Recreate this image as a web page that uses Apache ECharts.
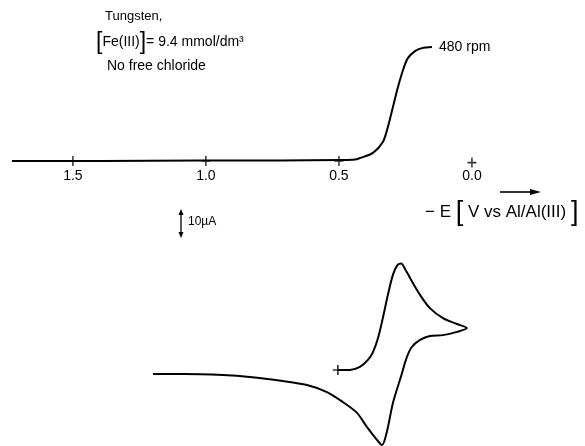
<!DOCTYPE html>
<html><head><meta charset="utf-8">
<script src="https://cdn.jsdelivr.net/npm/echarts@6/dist/echarts.min.js"></script>
<style>html,body{margin:0;padding:0;background:#fff}#c{width:585px;height:446px}</style>
</head><body><div id="c"></div>
<script>
// Rotating disk voltammogram (480 rpm): potential (V) and current (µA)
const rdeE = [1.729, 1.398, 1.023, 0.722, 0.496, 0.44, 0.421, 0.372, 0.335, 0.316, 0.297, 0.278, 0.259, 0.241, 0.214, 0.188, 0.150];
const rdeI = [0, 0, 0.2, 0.2, 0.37, 0.55, 1.1, 3.0, 7.0, 12.6, 20.0, 27.4, 33.7, 38.1, 40.7, 41.8, 42.2];
// Cyclic voltammogram: potential (V) and current (µA), in trace order
const cvE = [0.504, 0.459, 0.421, 0.391, 0.372, 0.353, 0.335, 0.316, 0.297, 0.280, 0.266, 0.252, 0.222, 0.195, 0.158, 0.109, 0.056, 0.019, 0.056, 0.109, 0.158, 0.195, 0.226, 0.246, 0.265, 0.297, 0.320, 0.338, 0.357, 0.395, 0.432, 0.485, 0.545, 0.620, 0.711, 0.835, 0.936, 1.086, 1.199];
const cvI = [1.5, 1.5, 2.6, 5.2, 8.1, 13.3, 20.7, 29.3, 36.7, 40.3, 40.9, 39.0, 33.7, 29.3, 24.4, 20.7, 18.5, 17.0, 15.6, 14.4, 14.1, 12.6, 10.0, 5.9, -0.4, -10.7, -21.5, -26.3, -24.4, -19.6, -14.4, -10.4, -6.7, -4.1, -2.6, -1.1, -0.4, 0, 0];
// Axis tick values
const tickValues = [1.5, 1.0, 0.5, 0.0];

const plusSym = 'path://M4,0h1.6v10h-1.6z M0,4.2h9.6v1.6h-9.6z';
const xBase = {type: 'value', min: -0.425, max: 1.774, inverse: true, splitLine: {show: false}, axisLine: {show: false}, axisTick: {show: false}};
const FONT = 'Liberation Sans, Arial, sans-serif';

const chart = echarts.init(document.getElementById('c'), null, {renderer: 'canvas'});
chart.setOption({
  animation: false,
  backgroundColor: '#fff',
  grid: [
    {left: 0, right: 0, top: 0, height: 161},
    {left: 0, right: 0, top: 0, bottom: 0}
  ],
  xAxis: [
    Object.assign({}, xBase, {gridIndex: 0, axisLabel: {show: true, customValues: tickValues, margin: 8, color: '#000', fontSize: 14, fontFamily: FONT, formatter: v => v.toFixed(1)}}),
    Object.assign({}, xBase, {gridIndex: 1, axisLabel: {show: false}})
  ],
  yAxis: [
    {type: 'value', gridIndex: 0, min: 0, max: 59.63, show: false, splitLine: {show: false}},
    {type: 'value', gridIndex: 1, min: -26.67, max: 138.52, show: false, splitLine: {show: false}}
  ],
  series: [
    {type: 'line', xAxisIndex: 0, yAxisIndex: 0, data: rdeE.map((e, k) => [e, rdeI[k]]), smooth: 0.3, symbol: 'none', clip: false,
     lineStyle: {color: '#000', width: 2}},
    {type: 'scatter', xAxisIndex: 0, yAxisIndex: 0, data: tickValues.map(v => [v, v === 0 ? -0.6 : 0]), symbol: plusSym, symbolSize: [9, 10], clip: false,
     itemStyle: {color: '#000'}},
    {type: 'line', xAxisIndex: 1, yAxisIndex: 1, data: cvE.map((e, k) => [e, cvI[k]]), smooth: 0.3, symbol: 'none', clip: false,
     lineStyle: {color: '#000', width: 2}},
    {type: 'scatter', xAxisIndex: 1, yAxisIndex: 1, data: [[cvE[0], cvI[0]]], symbol: plusSym, symbolSize: [10, 10], clip: false,
     itemStyle: {color: '#000'}}
  ],
  graphic: [
    {type: 'text', left: 105, top: 10, style: {text: 'Tungsten,', font: '13px ' + FONT, fill: '#000'}},
    {type: 'text', left: 96, top: 31, style: {
      text: '{b|[}Fe(III){b|]}= 9.4 mmol/dm³', font: '14px ' + FONT, fill: '#000',
      rich: {b: {fontSize: 23, fill: '#000'}}}},
    {type: 'text', left: 107, top: 59, style: {text: 'No free chloride', font: '14px ' + FONT, fill: '#000'}},
    {type: 'text', left: 439, top: 40, style: {text: '480 rpm', font: '14px ' + FONT, fill: '#000'}},
    {type: 'line', shape: {x1: 181, y1: 212, x2: 181, y2: 235}, style: {stroke: '#000', lineWidth: 1.3}},
    {type: 'polygon', shape: {points: [[178.5, 215], [181, 209], [183.5, 215]]}, style: {fill: '#000'}},
    {type: 'polygon', shape: {points: [[178.5, 232], [181, 238], [183.5, 232]]}, style: {fill: '#000'}},
    {type: 'text', left: 188, top: 216, style: {text: '10µA', font: '12px ' + FONT, fill: '#000'}},
    {type: 'line', shape: {x1: 500, y1: 192, x2: 532, y2: 192}, style: {stroke: '#000', lineWidth: 1.6}},
    {type: 'polygon', shape: {points: [[530, 189], [541, 192], [530, 195]]}, style: {fill: '#000'}},
    {type: 'text', left: 425, top: 199, style: {
      text: '− E {b|[} V vs Al/Al(III) {b|]}', font: '17px ' + FONT, fill: '#000',
      rich: {b: {fontSize: 27, fill: '#000'}}}}
  ]
});
</script></body></html>
